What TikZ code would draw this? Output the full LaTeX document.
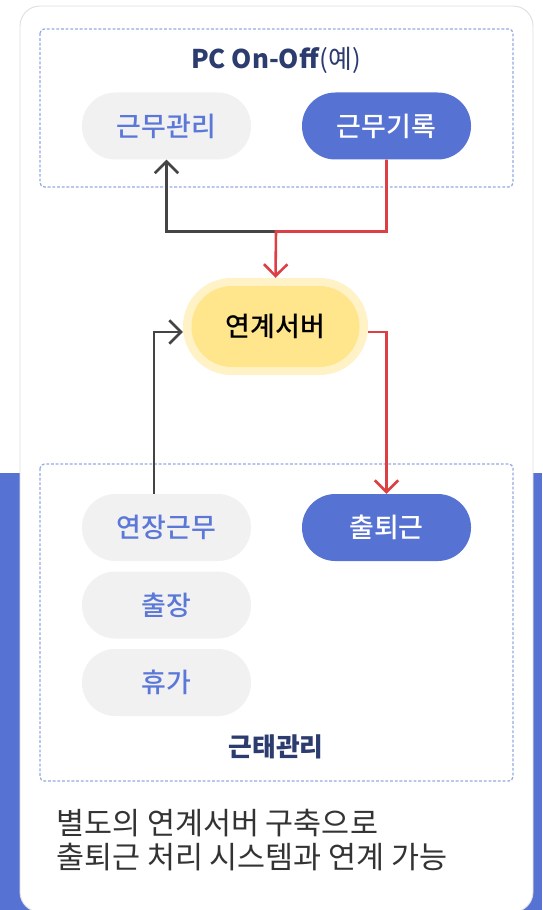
\documentclass[tikz,border=0pt]{standalone}
\usepackage{fontspec}
\setmainfont{Noto Sans CJK KR}
\newfontfamily\krmedium{Noto Sans CJK KR Medium}
\usepackage{tikz}
\usetikzlibrary{arrows.meta,calc,positioning}
\definecolor{bandblue}{RGB}{86,115,212}
\definecolor{pillgray}{RGB}{241,241,241}
\definecolor{pilltext}{RGB}{91,119,216}
\definecolor{navy}{RGB}{44,60,110}
\definecolor{hubin}{RGB}{255,229,140}
\definecolor{hubout}{RGB}{255,242,198}
\definecolor{linkred}{RGB}{220,64,68}
\definecolor{linkgray}{RGB}{68,68,68}
\definecolor{dotblue}{RGB}{150,170,226}
\definecolor{captext}{RGB}{51,51,51}

\begin{document}
\begin{tikzpicture}[x=0.3mm,y=-0.3mm,
    pill/.style={rounded corners=10mm, minimum width=50.7mm, minimum height=20.1mm,
      inner sep=0pt, font=\krmedium\fontsize{23}{27}\selectfont},
    softpill/.style={pill, fill=pillgray, text=pilltext},
    strongpill/.style={pill, fill=bandblue, text=white},
    grouplabel/.style={font=\bfseries\fontsize{22}{26}\selectfont, text=navy},
    groupbox/.style={draw=dotblue, line width=1.1pt, dash pattern=on 2.4pt off 1.6pt, rounded corners=1.3mm},
    link/.style={line width=2.2pt, -{Straight Barb[length=10pt,width=20pt,line width=2.2pt]}}]
        % Fix the page size
        \useasboundingbox (0,0) rectangle (542,910);
        % Background band and card
        \fill[bandblue] (0,473) rectangle (542,910);
        \filldraw[fill=white, draw=gray!25, line width=0.8pt, rounded corners=6mm] (20,6) rectangle (533,912);
        % Group boxes
        \draw[groupbox] (40,29) rectangle (513,187);
        \draw[groupbox] (40,464) rectangle (513,781);
        \node[grouplabel] (pctitle) at (276,60) {PC On-Off\textmd{(예)}};
        \node[grouplabel] (attitle) at (276,747) {근태관리};
        % PC On-Off nodes
        \node[softpill] (manage) at (166.5,126) {근무관리};
        \node[strongpill] (record) at (386.5,126) {근무기록};
        % Linking server
        \node[rounded corners=14.5mm, minimum width=55.5mm, minimum height=29.1mm,
          fill=hubout] (serverhalo) at (275.5,326.5) {};
        \node[pill, minimum width=50.4mm, minimum height=24.3mm, rounded corners=12.1mm,
          fill=hubin, text=black] (server) at (275.5,326.5) {연계서버};
        % Attendance nodes
        \node[softpill] (overtime) at (166.5,527.5) {연장근무};
        \node[strongpill] (commute) at (386.5,527.5) {출퇴근};
        \node[softpill] (trip) at (166.5,605) {출장};
        \node[softpill] (leave) at (166.5,682.5) {휴가};
        % Connectors
        \coordinate (join) at (276,231.5);
        \draw[link, linkgray] (join) -| (manage.south);
        \draw[link, linkred] (record.south) |- (join) -- (serverhalo.north);
        \draw[link, linkgray] ([xshift=-3.75mm]overtime.north) |- ([yshift=-1.65mm]serverhalo.west);
        \draw[link, linkred] ([yshift=-1.65mm]serverhalo.east) -| (commute.north);
        % Caption
        \node[anchor=west, align=left, text=captext, font=\fontsize{26}{29}\selectfont]
          (caption) at (52,840) {별도의 연계서버 구축으로\\출퇴근 처리 시스템과 연계 가능};
      \end{tikzpicture}
\end{document}
